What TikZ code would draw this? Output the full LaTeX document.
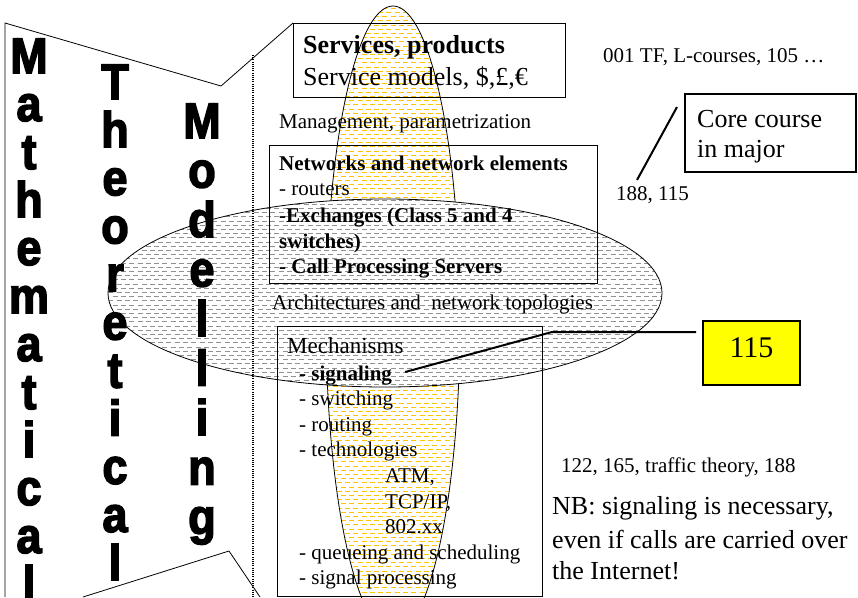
\documentclass[tikz,border=0pt]{standalone}
\usepackage{fontspec}
\setmainfont{Liberation Serif}
\newfontfamily\heavyfont{Liberation Sans}[BoldFeatures={FakeBold=3,FakeStretch=0.9}]
\definecolor{patgray}{RGB}{145,145,145}
\definecolor{patyellow}{RGB}{255,196,0}
\definecolor{boxyellow}{RGB}{255,255,0}
\tikzset{
  txt/.style={inner sep=0pt, anchor=base west, font=\fontsize{21}{25.7}\selectfont},
  txtb/.style={txt, font=\bfseries\fontsize{21}{25.7}\selectfont},
  bigtxt/.style={inner sep=0pt, anchor=base west, font=\fontsize{26}{30}\selectfont},
  thinline/.style={line width=0.8pt},
  thickline/.style={line width=2pt},
  vert/.style={inner sep=0pt, anchor=base, align=center},
  patline/.style={line width=0.85pt, dash pattern=on 5pt off 3.3pt},
}
\begin{document}
\begin{tikzpicture}[x=1pt,y=-1pt]
\useasboundingbox (0,0) rectangle (858,597);
\clip (0,0) rectangle (858,597);
% yellow tall ellipse
\begin{scope}
  \clip (393,320) ellipse [x radius=67pt, y radius=314pt];
  \fill[white] (320,0) rectangle (470,640);
  \foreach \k in {0,...,150} {
    \pgfmathsetmacro\yy{4+\k*4.2}
    \pgfmathsetmacro\ph{mod(\k,2)*4}
    \draw[patline, patyellow, dash phase=\ph pt] (320,\yy) -- (470,\yy);
  }
\end{scope}
\draw[thinline] (393,320) ellipse [x radius=67pt, y radius=314pt];
% gray wide ellipse
\begin{scope}
  \clip (385,293) ellipse [x radius=277pt, y radius=94pt];
  \fill[white] (100,190) rectangle (670,400);
  \foreach \k in {0,...,46} {
    \pgfmathsetmacro\yy{200+\k*4.2}
    \pgfmathsetmacro\ph{mod(\k,2)*4}
    \draw[patline, patgray, dash phase=\ph pt] (100,\yy) -- (670,\yy);
  }
\end{scope}
\draw[thinline] (385,293) ellipse [x radius=277pt, y radius=94pt];
% callout outline and dotted divider
\draw[thinline] (5,597) -- (5,23) -- (221,86) -- (293,23);
\draw[thinline] (83,597) -- (229,551) -- (260,597);
\draw[line width=1.3pt, dash pattern=on 1pt off 1.2pt] (253,55) -- (253,597);
% boxes
\draw[thinline] (293,23) rectangle (565,97);
\draw[thinline] (269,145) rectangle (597,283);
\draw[thinline] (277,326) rectangle (542,596);
\draw[line width=2pt] (685,94) rectangle (856,172);
\draw[line width=2pt, fill=boxyellow] (703,321) rectangle (800,385);
% vertical words (anchor base = baseline of last line)
\node[vert, font=\heavyfont\bfseries\fontsize{50}{48}\selectfont] (math) at (29,601)
  {M\\a\\t\\h\\e\\m\\a\\t\\i\\c\\a\\l};
\node[vert, font=\heavyfont\bfseries\fontsize{50}{48.1}\selectfont] (theo) at (115,580)
  {T\\h\\e\\o\\r\\e\\t\\i\\c\\a\\l};
\node[vert, font=\heavyfont\bfseries\fontsize{50}{49.5}\selectfont] (mode) at (202,534)
  {M\\o\\d\\e\\l\\l\\i\\n\\g};
% services box
\node[bigtxt, font=\bfseries\fontsize{26}{30}\selectfont] (serv) at (303,53) {Services, products};
\node[bigtxt] (servm) at (303,85) {Service models, \$,£,€};
\node[txt] (mgmt) at (279,128) {Management, parametrization};
% networks box
\node[txtb] (netw) at (279,170) {Networks and network elements};
\node[txt] (rout) at (279,195) {- routers};
\node[txtb] (exch) at (279,222) {-Exchanges (Class 5 and 4};
\node[txtb] (swit) at (279,248) {switches)};
\node[txtb] (cps) at (279,273) {- Call Processing Servers};
\node[txt] (arch) at (272,309) {Architectures and \ network topologies};
% mechanisms box
\node[txt, font=\fontsize{23}{26}\selectfont] (mech) at (287,353) {Mechanisms};
\node[txtb] (sig) at (299,380) {- signaling};
\node[txt] (swi) at (299,405.6) {- switching};
\node[txt] (rtg) at (299,431.2) {- routing};
\node[txt] (tech) at (299,456.8) {- technologies};
\node[txt] (atm) at (385,482.4) {ATM,};
\node[txt] (tcp) at (385,508) {TCP/IP,};
\node[txt] (x802) at (385,533.6) {802.xx};
\node[txt] (que) at (299,559.2) {- queueing and scheduling};
\node[txt] (sgp) at (299,584.8) {- signal processing};
% right side
\node[txt] (c001) at (603,62) {001 TF, L-courses, 105 …};
\node[bigtxt] (core1) at (697,127) {Core course};
\node[bigtxt] (core2) at (697,157) {in major};
\node[txt] (c188) at (616,200) {188, 115};
\node[inner sep=0pt, anchor=base, font=\fontsize{30}{32}\selectfont] (n115) at (751.5,357) {115};
\node[txt] (c122) at (561,472) {122, 165, traffic theory, 188};
\node[bigtxt] (nb1) at (552,514) {NB: signaling is necessary,};
\node[bigtxt] (nb2) at (552,548) {even if calls are carried over};
\node[bigtxt] (nb3) at (552,579) {the Internet!};
% connectors
\coordinate (sigend) at ([shift={(13pt,8pt)}]sig.base east);
\coordinate (bend) at (552,332);
\coordinate (end115) at (696,332);
\draw[thickline] (sigend) -- (bend) -- (end115);
\coordinate (c188top) at ([shift={(21pt,20pt)}]c188.base west);
\coordinate (coreend) at (677,107);
\draw[thickline] (c188top) -- (coreend);
\end{tikzpicture}
\end{document}
